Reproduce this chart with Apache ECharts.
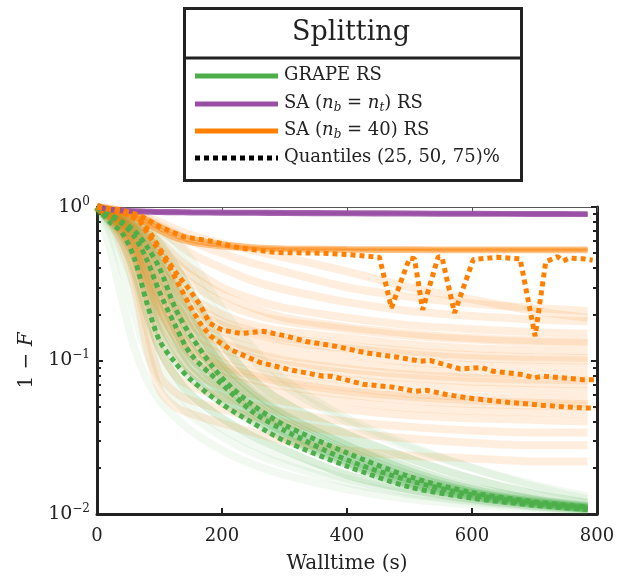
<!DOCTYPE html>
<html>
<head>
<meta charset="utf-8">
<script src="https://cdn.jsdelivr.net/npm/echarts@6/dist/echarts.min.js"></script>
<style>html,body{margin:0;padding:0;background:#fff}#c{width:625px;height:579px}</style>
</head>
<body>
<div id="c"></div>
<script>
// ---------- DATA ----------
const legendTitle = 'Splitting';
const xTicks = [0, 200, 400, 600, 800];
const yTicks = [0.01, 0.1, 1];
const T = [0, 20, 40, 60, 80, 100, 125, 150, 200, 250, 300, 400, 500, 600, 700, 785];

const grapeRuns = [
  [1, 0.55, 0.25, 0.12, 0.075, 0.055, 0.043, 0.035, 0.026, 0.021, 0.018, 0.0145, 0.0125, 0.0115, 0.0109, 0.0105],
  [1, 0.70, 0.40, 0.20, 0.11, 0.075, 0.055, 0.044, 0.032, 0.025, 0.021, 0.016, 0.0135, 0.012, 0.0111, 0.0106],
  [1, 0.75, 0.50, 0.30, 0.16, 0.095, 0.066, 0.050, 0.036, 0.028, 0.023, 0.017, 0.0138, 0.0122, 0.0112, 0.0106],
  [1, 0.80, 0.60, 0.38, 0.20, 0.12, 0.080, 0.060, 0.042, 0.032, 0.026, 0.018, 0.0145, 0.0125, 0.0113, 0.0107],
  [1, 0.82, 0.66, 0.47, 0.26, 0.15, 0.10, 0.077, 0.053, 0.040, 0.031, 0.021, 0.0155, 0.013, 0.0116, 0.0108],
  [1, 0.84, 0.70, 0.52, 0.31, 0.18, 0.12, 0.085, 0.057, 0.042, 0.032, 0.0215, 0.0157, 0.013, 0.0116, 0.0108],
  [1, 0.86, 0.74, 0.58, 0.38, 0.22, 0.14, 0.095, 0.062, 0.045, 0.034, 0.022, 0.016, 0.0132, 0.0117, 0.0109],
  [1, 0.87, 0.77, 0.62, 0.43, 0.26, 0.16, 0.105, 0.066, 0.047, 0.035, 0.023, 0.0165, 0.0134, 0.0118, 0.0109],
  [1, 0.88, 0.80, 0.66, 0.48, 0.31, 0.19, 0.12, 0.072, 0.049, 0.037, 0.024, 0.017, 0.0136, 0.0119, 0.011],
  [1, 0.89, 0.81, 0.69, 0.53, 0.37, 0.22, 0.14, 0.078, 0.052, 0.039, 0.025, 0.0175, 0.0139, 0.012, 0.011],
  [1, 0.90, 0.82, 0.72, 0.58, 0.42, 0.25, 0.16, 0.085, 0.056, 0.041, 0.026, 0.018, 0.014, 0.0121, 0.0111],
  [1, 0.91, 0.84, 0.74, 0.61, 0.46, 0.29, 0.185, 0.092, 0.060, 0.044, 0.028, 0.019, 0.0145, 0.0123, 0.0112],
  [1, 0.92, 0.85, 0.76, 0.64, 0.50, 0.33, 0.21, 0.10, 0.063, 0.046, 0.029, 0.020, 0.015, 0.0125, 0.0113],
  [1, 0.93, 0.87, 0.80, 0.70, 0.58, 0.42, 0.28, 0.13, 0.075, 0.053, 0.033, 0.023, 0.017, 0.0135, 0.0118],
  [1, 0.95, 0.90, 0.84, 0.76, 0.66, 0.52, 0.38, 0.18, 0.10, 0.068, 0.040, 0.027, 0.020, 0.015, 0.0125],
  [1, 0.96, 0.92, 0.87, 0.80, 0.72, 0.60, 0.46, 0.22, 0.12, 0.075, 0.042, 0.028, 0.020, 0.0155, 0.013]
];

const saTargetRuns = [
  [1, 0.97, 0.955, 0.945, 0.94, 0.935, 0.933, 0.93, 0.927, 0.925, 0.922, 0.918, 0.914, 0.91, 0.907, 0.905],
  [1, 0.96, 0.94, 0.93, 0.925, 0.92, 0.918, 0.915, 0.912, 0.91, 0.907, 0.903, 0.9, 0.897, 0.894, 0.892]
];

const sa40PlateauRuns = [
  [1, 0.97, 0.93, 0.88, 0.80, 0.72, 0.65, 0.60, 0.56, 0.54, 0.535, 0.53, 0.528, 0.527, 0.527, 0.527],
  [1, 0.96, 0.91, 0.85, 0.77, 0.69, 0.62, 0.58, 0.545, 0.53, 0.522, 0.518, 0.516, 0.515, 0.515, 0.515],
  [1, 0.98, 0.95, 0.90, 0.84, 0.76, 0.68, 0.63, 0.58, 0.555, 0.545, 0.54, 0.538, 0.537, 0.537, 0.537]
];

const sa40Runs = [
  [1, 0.98, 0.95, 0.91, 0.86, 0.80, 0.72, 0.66, 0.58, 0.52, 0.47, 0.38, 0.30, 0.25, 0.21, 0.19],
  [1, 0.97, 0.94, 0.90, 0.84, 0.76, 0.68, 0.60, 0.50, 0.43, 0.38, 0.30, 0.26, 0.235, 0.22, 0.21],
  [1, 0.97, 0.93, 0.88, 0.80, 0.70, 0.60, 0.50, 0.40, 0.33, 0.29, 0.24, 0.21, 0.195, 0.185, 0.18],
  [1, 0.96, 0.90, 0.82, 0.72, 0.60, 0.48, 0.40, 0.30, 0.25, 0.22, 0.19, 0.17, 0.16, 0.153, 0.15],
  [1, 0.95, 0.89, 0.80, 0.68, 0.55, 0.44, 0.36, 0.27, 0.22, 0.19, 0.165, 0.15, 0.14, 0.135, 0.133],
  [1, 0.95, 0.88, 0.78, 0.65, 0.52, 0.40, 0.32, 0.24, 0.20, 0.18, 0.16, 0.145, 0.137, 0.132, 0.13],
  [1, 0.94, 0.86, 0.75, 0.60, 0.46, 0.34, 0.26, 0.20, 0.17, 0.155, 0.14, 0.127, 0.12, 0.117, 0.115],
  [1, 0.93, 0.85, 0.72, 0.57, 0.43, 0.31, 0.24, 0.18, 0.155, 0.14, 0.125, 0.115, 0.108, 0.105, 0.104],
  [1, 0.93, 0.84, 0.70, 0.55, 0.40, 0.29, 0.22, 0.17, 0.15, 0.135, 0.12, 0.11, 0.104, 0.101, 0.10],
  [1, 0.92, 0.82, 0.68, 0.50, 0.36, 0.26, 0.20, 0.155, 0.135, 0.122, 0.108, 0.098, 0.093, 0.091, 0.09],
  [1, 0.92, 0.80, 0.64, 0.47, 0.33, 0.23, 0.18, 0.14, 0.12, 0.108, 0.096, 0.088, 0.083, 0.081, 0.08],
  [1, 0.91, 0.79, 0.62, 0.44, 0.31, 0.22, 0.17, 0.13, 0.112, 0.10, 0.088, 0.081, 0.077, 0.075, 0.074],
  [1, 0.91, 0.78, 0.60, 0.42, 0.29, 0.20, 0.155, 0.12, 0.104, 0.094, 0.083, 0.077, 0.073, 0.071, 0.07],
  [1, 0.90, 0.76, 0.57, 0.38, 0.26, 0.18, 0.14, 0.108, 0.094, 0.085, 0.075, 0.069, 0.066, 0.064, 0.063],
  [1, 0.90, 0.75, 0.55, 0.36, 0.24, 0.165, 0.125, 0.097, 0.084, 0.076, 0.067, 0.061, 0.058, 0.057, 0.056],
  [1, 0.89, 0.73, 0.53, 0.34, 0.22, 0.155, 0.12, 0.092, 0.080, 0.072, 0.063, 0.058, 0.055, 0.053, 0.052],
  [1, 0.89, 0.72, 0.52, 0.33, 0.21, 0.145, 0.11, 0.086, 0.075, 0.068, 0.060, 0.055, 0.052, 0.051, 0.05],
  [1, 0.88, 0.70, 0.50, 0.30, 0.19, 0.13, 0.10, 0.078, 0.068, 0.061, 0.054, 0.049, 0.047, 0.046, 0.045],
  [1, 0.87, 0.68, 0.47, 0.27, 0.16, 0.11, 0.085, 0.068, 0.060, 0.054, 0.048, 0.044, 0.042, 0.041, 0.04],
  [1, 0.86, 0.65, 0.42, 0.22, 0.12, 0.08, 0.068, 0.058, 0.051, 0.046, 0.040, 0.037, 0.035, 0.034, 0.034],
  [1, 0.85, 0.60, 0.35, 0.16, 0.08, 0.062, 0.055, 0.048, 0.043, 0.039, 0.034, 0.031, 0.029, 0.028, 0.028],
  [1, 0.80, 0.55, 0.30, 0.12, 0.065, 0.05, 0.045, 0.039, 0.034, 0.030, 0.026, 0.024, 0.023, 0.022, 0.022]
];

const grapeQ25 = [1, 0.80, 0.68, 0.46, 0.235, 0.135, 0.097, 0.075, 0.052, 0.039, 0.030, 0.0205, 0.0150, 0.0127, 0.0114, 0.0107];
const grapeQ50 = [1, 0.88, 0.78, 0.64, 0.45, 0.28, 0.17, 0.11, 0.070, 0.046, 0.035, 0.0225, 0.0165, 0.0133, 0.0117, 0.0109];
const grapeQ75 = [1, 0.90, 0.80, 0.70, 0.55, 0.40, 0.22, 0.145, 0.077, 0.051, 0.038, 0.025, 0.0175, 0.0138, 0.012, 0.0111];

const sa40Q25T = [0, 40, 69, 95, 117, 133, 149, 165, 181, 213, 261, 309, 362, 375, 426, 474, 509, 527, 559, 594, 645, 714, 781, 797];
const sa40Q25  = [1, 0.93, 0.80, 0.55, 0.40, 0.30, 0.225, 0.175, 0.145, 0.118, 0.097, 0.087, 0.079, 0.079, 0.070, 0.067, 0.063, 0.064, 0.060, 0.057, 0.054, 0.051, 0.049, 0.049];
const sa40Q50T = [0, 40, 65, 85, 105, 127, 145, 165, 180, 200, 230, 266, 300, 335, 381, 431, 482, 517, 533, 565, 581, 615, 634, 682, 698, 714, 778, 797];
const sa40Q50  = [1, 0.95, 0.86, 0.68, 0.50, 0.37, 0.30, 0.23, 0.175, 0.158, 0.15, 0.155, 0.145, 0.133, 0.124, 0.112, 0.105, 0.099, 0.10, 0.092, 0.088, 0.09, 0.085, 0.081, 0.077, 0.079, 0.075, 0.075];
const sa40Q75T = [0, 37, 69, 101, 138, 181, 229, 287, 362, 400, 440, 452, 471, 500, 508, 521, 546, 552, 572, 602, 640, 677, 701, 718, 737, 746, 756, 778, 793];
const sa40Q75  = [1, 0.96, 0.88, 0.74, 0.64, 0.60, 0.54, 0.505, 0.50, 0.49, 0.475, 0.47, 0.22, 0.465, 0.46, 0.214, 0.475, 0.47, 0.204, 0.455, 0.47, 0.46, 0.144, 0.44, 0.475, 0.445, 0.465, 0.46, 0.45];

const legendNames = ['GRAPE RS', 'SA ({i|n}{sub|b} = {i|n}{sub|t}) RS', 'SA ({i|n}{sub|b} = 40) RS', 'Quantiles (25, 50, 75)%'];

// ---------- STYLE ----------
const GREEN = '#4daf4a', PURPLE = '#984ea3', ORANGE = '#ff7f00', INK = '#222';
const FONT = '"DejaVu Serif", "Liberation Serif", serif';

const series = [];
const pairs = (ts, vs) => ts.map((t, i) => [t, vs[i]]);

grapeRuns.forEach((r, k) => series.push({
  type: 'line', data: pairs(T, r), symbol: 'none', smooth: 0.3, silent: true, z: 1,
  lineStyle: { color: GREEN, width: 8, opacity: (k < 3 || k > grapeRuns.length - 3) ? 0.08 : 0.2 }
}));
sa40Runs.forEach(r => series.push({
  type: 'line', data: pairs(T, r), symbol: 'none', smooth: 0.3, silent: true, z: 2,
  lineStyle: { color: ORANGE, width: 8, opacity: 0.13 }
}));
sa40PlateauRuns.forEach(r => series.push({
  type: 'line', data: pairs(T, r), symbol: 'none', smooth: 0.3, silent: true, z: 3,
  lineStyle: { color: ORANGE, width: 4, opacity: 0.45 }
}));
saTargetRuns.forEach(r => series.push({
  type: 'line', data: pairs(T, r), symbol: 'none', smooth: 0.3, silent: true, z: 4,
  lineStyle: { color: PURPLE, width: 5, opacity: 0.85 }
}));

const dotted = [5, 4];
[grapeQ25, grapeQ50, grapeQ75].forEach(q => series.push({
  type: 'line', data: pairs(T, q), symbol: 'none', smooth: 0.3, silent: true, z: 6,
  lineStyle: { color: GREEN, width: 5, type: dotted, cap: 'butt' }
}));
[[sa40Q25T, sa40Q25], [sa40Q50T, sa40Q50], [sa40Q75T, sa40Q75]].forEach(([ts, q]) => series.push({
  type: 'line', data: pairs(ts, q), symbol: 'none', smooth: false, silent: true, z: 6,
  lineStyle: { color: ORANGE, width: 5, type: dotted, cap: 'butt' }
}));

const supRich = { sup: { fontSize: 12, fontFamily: FONT, color: INK, padding: [0, 0, 11, 0] } };

const chart = echarts.init(document.getElementById('c'), null, { renderer: 'canvas' });
chart.setOption({
  animation: false,
  backgroundColor: '#fff',
  grid: { left: 97, right: 28, top: 207, bottom: 64, containLabel: false },
  xAxis: [{
    type: 'value', min: 0, max: 800, interval: 200, position: 'bottom',
    name: 'Walltime (s)', nameLocation: 'middle', nameGap: 40,
    nameTextStyle: { fontSize: 20, fontFamily: FONT, color: INK },
    axisLine: { lineStyle: { color: INK, width: 3 } },
    axisTick: { inside: true, length: 6, lineStyle: { color: INK, width: 2 } },
    axisLabel: { fontSize: 18, fontFamily: FONT, color: INK, margin: 13 },
    splitLine: { show: false }
  }, {
    type: 'value', min: 0, max: 800, interval: 200, position: 'top',
    axisLine: { onZero: false, lineStyle: { color: '#555', width: 1 } },
    axisTick: { inside: true, length: 5, lineStyle: { color: '#555', width: 1 } },
    axisLabel: { show: false }, splitLine: { show: false }
  }],
  yAxis: [{
    type: 'log', logBase: 10, min: 0.01, max: 1, position: 'left',
    name: '1 − {i|F}', nameLocation: 'middle', nameGap: 58, nameRotate: 90,
    nameTextStyle: { fontSize: 20, fontFamily: FONT, color: INK,
      rich: { i: { fontSize: 20, fontFamily: FONT, fontStyle: 'italic', color: INK } } },
    axisLine: { onZero: false, lineStyle: { color: INK, width: 3 } },
    axisTick: { inside: true, length: 6, lineStyle: { color: INK, width: 2 } },
    minorTick: { show: true, splitNumber: 9, length: 4, lineStyle: { color: INK, width: 2 } },
    axisLabel: {
      fontSize: 19, fontFamily: FONT, color: INK, margin: 7,
      formatter: v => '10{sup|' + String(Math.round(Math.log10(v))).replace('-', '−') + '}',
      rich: supRich
    },
    splitLine: { show: false }, minorSplitLine: { show: false }
  }, {
    type: 'log', logBase: 10, min: 0.01, max: 1, position: 'right',
    axisLine: { onZero: false, lineStyle: { color: INK, width: 3 } },
    axisTick: { inside: true, length: 6, lineStyle: { color: INK, width: 2 } },
    minorTick: { show: true, splitNumber: 9, length: 4, lineStyle: { color: INK, width: 2 } },
    axisLabel: { show: false }, splitLine: { show: false }
  }],
  series: series,
  graphic: [
    { type: 'rect', left: 183, top: 7, shape: { width: 337, height: 172 },
      style: { fill: '#fff', stroke: INK, lineWidth: 3 }, z: 100 },
    { type: 'line', shape: { x1: 183, y1: 58, x2: 520, y2: 58 },
      style: { stroke: INK, lineWidth: 3 }, z: 101 },
    { type: 'text', x: 351, y: 33, z: 101,
      style: { text: legendTitle, fontSize: 27, fontFamily: FONT, fill: INK, align: 'center', verticalAlign: 'middle' } },
    { type: 'line', shape: { x1: 195, y1: 76, x2: 278, y2: 76 }, style: { stroke: GREEN, lineWidth: 5 }, z: 101 },
    { type: 'line', shape: { x1: 195, y1: 104, x2: 278, y2: 104 }, style: { stroke: PURPLE, lineWidth: 5 }, z: 101 },
    { type: 'line', shape: { x1: 195, y1: 131, x2: 278, y2: 131 }, style: { stroke: ORANGE, lineWidth: 5 }, z: 101 },
    { type: 'line', shape: { x1: 195, y1: 158, x2: 278, y2: 158 }, style: { stroke: '#000', lineWidth: 5, lineDash: [5, 4] }, z: 101 },
    ...legendNames.map((n, i) => ({
      type: 'text', x: 284, y: [75, 103, 130, 157][i], z: 101,
      style: {
        text: n, fontSize: 18, fontFamily: FONT, fill: INK, verticalAlign: 'middle',
        rich: {
          i: { fontSize: 18, fontFamily: FONT, fontStyle: 'italic', fill: INK },
          sub: { fontSize: 12, fontFamily: FONT, fontStyle: 'italic', fill: INK, padding: [9, 0, 0, 0] }
        }
      }
    }))
  ]
});
</script>
</body>
</html>
